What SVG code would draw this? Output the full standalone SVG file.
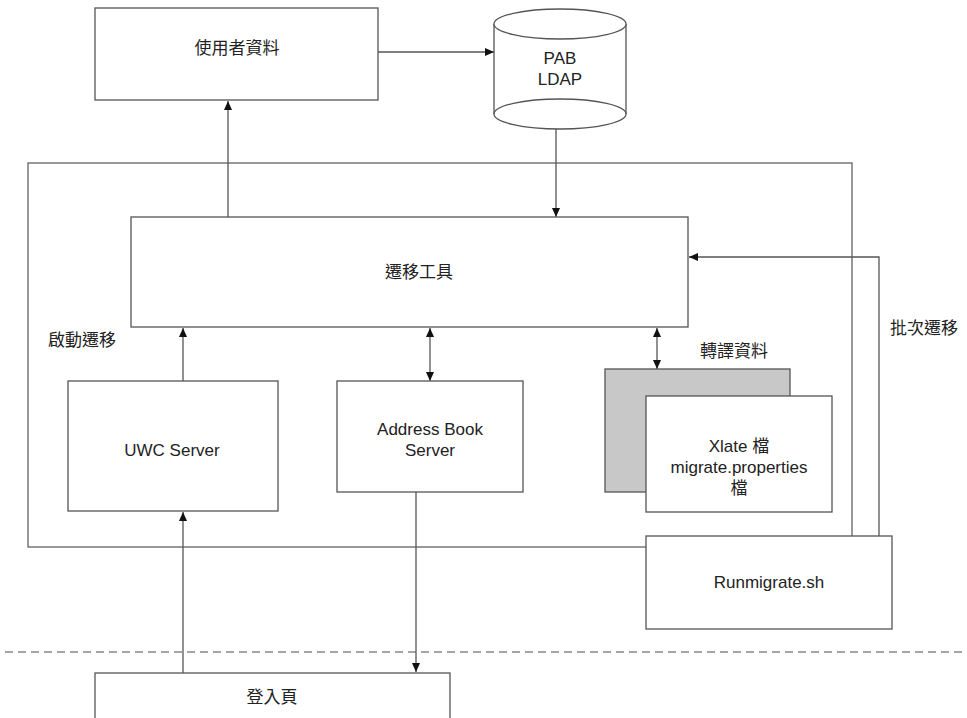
<svg xmlns="http://www.w3.org/2000/svg" width="967" height="718" viewBox="0 0 967 718">
<defs>
<style>
.box{fill:#fff;stroke:#555;stroke-width:1.3}
.gray{fill:#c8c8c8;stroke:#555;stroke-width:1.3}
.cont{fill:none;stroke:#777;stroke-width:1.5}
.ln{fill:none;stroke:#555;stroke-width:1.3}
.t{font-family:"Liberation Sans","Noto Sans CJK TC",sans-serif;font-size:17px;fill:#222;text-anchor:middle;dominant-baseline:central}
.tl{font-family:"Liberation Sans","Noto Sans CJK TC",sans-serif;font-size:17px;fill:#222;dominant-baseline:central}
</style>
<marker id="ah" markerWidth="10" markerHeight="10" refX="9" refY="5" orient="auto-start-reverse" markerUnits="userSpaceOnUse">
<path d="M0,1 L9,5 L0,9 Z" fill="#111"/>
</marker>
</defs>
<rect width="967" height="718" fill="#fff"/>

<g id="container">
<rect class="cont" x="28" y="163" width="824" height="384"/>
</g>
<line x1="5" y1="652" x2="967" y2="652" stroke="#888" stroke-width="1.3" stroke-dasharray="8,5"/>

<g id="connectors">
<line class="ln" x1="378" y1="52" x2="494" y2="52" marker-end="url(#ah)"/>
<line class="ln" x1="556" y1="129" x2="556" y2="217" marker-end="url(#ah)"/>
<line class="ln" x1="228" y1="217" x2="228" y2="101" marker-end="url(#ah)"/>
<line class="ln" x1="183" y1="381" x2="183" y2="328" marker-end="url(#ah)"/>
<line class="ln" x1="430" y1="328" x2="430" y2="381" marker-start="url(#ah)" marker-end="url(#ah)"/>
<line class="ln" x1="657" y1="328" x2="657" y2="369" marker-start="url(#ah)" marker-end="url(#ah)"/>
<polyline class="ln" points="879,536 879,257 689,257" marker-end="url(#ah)"/>
<line class="ln" x1="183" y1="673" x2="183" y2="512" marker-end="url(#ah)"/>
<line class="ln" x1="416" y1="492" x2="416" y2="672" marker-end="url(#ah)"/>
</g>

<g id="userdata">
<rect class="box" x="95" y="8" width="283" height="92"/>
<text class="t" x="237" y="48">使用者資料</text>
</g>

<g id="pabldap">
<path class="box" d="M494,24 L494,114 A66,15 0 0 0 626,114 L626,24"/>
<ellipse class="box" cx="560" cy="24" rx="66" ry="15"/>
<path class="ln" d="M494,114 A66,15 0 0 1 626,114"/>
<text class="t" x="560" y="58">PAB</text>
<text class="t" x="560" y="79">LDAP</text>
</g>

<g id="migtool">
<rect class="box" x="131" y="217" width="557" height="110"/>
<text class="t" x="419" y="272">遷移工具</text>
</g>

<text class="tl" x="48" y="340">啟動遷移</text>
<text class="tl" x="700" y="351">轉譯資料</text>
<text class="tl" x="890" y="328">批次遷移</text>

<g id="uwc">
<rect class="box" x="68" y="381" width="210" height="130"/>
<text class="t" x="172" y="450">UWC Server</text>
</g>

<g id="abs">
<rect class="box" x="337" y="381" width="186" height="111"/>
<text class="t" x="430" y="429">Address Book</text>
<text class="t" x="430" y="450">Server</text>
</g>

<g id="xlate">
<rect class="gray" x="605" y="369" width="185" height="123"/>
<rect class="box" x="646" y="396" width="186" height="116"/>
<text class="t" x="739" y="446">Xlate 檔</text>
<text class="t" x="739" y="467">migrate.properties</text>
<text class="t" x="739" y="488">檔</text>
</g>

<g id="runmigrate">
<rect class="box" x="646" y="536" width="246" height="93"/>
<text class="t" x="769" y="582">Runmigrate.sh</text>
</g>

<g id="login">
<rect class="box" x="95" y="673" width="355" height="50"/>
<text class="t" x="272" y="697">登入頁</text>
</g>
</svg>
